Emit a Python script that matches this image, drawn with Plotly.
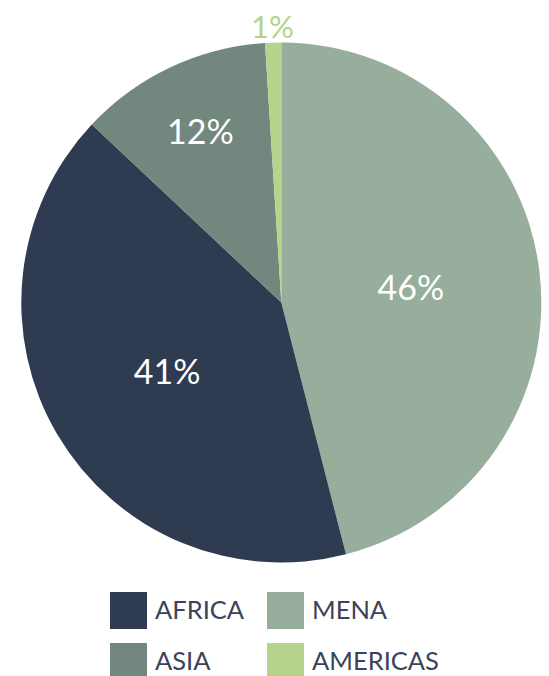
import math
import plotly.graph_objects as go

# Regional share, listed clockwise from 12 o'clock
regions = ["MENA", "AFRICA", "ASIA", "AMERICAS"]
shares = [46, 41, 12, 1]
slice_colors = ["#97ae9d", "#2f3b50", "#72877d", "#b5d38b"]
label_colors = ["#ffffff", "#ffffff", "#ffffff", "#b5d38b"]
# the thin slice gets its label outside the rim instead
label_positions = ["inside", "inside", "inside", "none"]

# Legend layout: two columns, read left to right
legend_order = ["AFRICA", "MENA", "ASIA", "AMERICAS"]

W, H = 549, 676
FONT = "Lato"
CX, CY, R = 281.3, 302.5, 260.0  # pie centre / radius in pixels

fig = go.Figure(
    go.Pie(
        labels=regions,
        values=shares,
        sort=False,
        direction="clockwise",
        rotation=0,
        marker=dict(colors=slice_colors, line=dict(width=0)),
        texttemplate="%{percent:.0%}",
        textposition=label_positions,
        insidetextorientation="horizontal",
        textfont=dict(family=FONT, size=34, color=label_colors),
        showlegend=False,
        hoverinfo="label+percent",
        domain=dict(x=[(CX - R) / W, (CX + R) / W], y=[1 - (CY + R) / H, 1 - (CY - R) / H]),
    )
)

annos = []
shapes = []

# Outside label for slices whose text is not drawn inside
total = sum(shares)
cum = 0.0
for name, v, pos, col in zip(regions, shares, label_positions, label_colors):
    mid = (cum + v / 2) / total * 2 * math.pi
    cum += v
    if pos != "none":
        continue
    rr = R + 17
    px = CX + rr * math.sin(mid)
    py = CY - rr * math.cos(mid)
    annos.append(dict(
        text=f"{round(v / total * 100)}%", xref="paper", yref="paper",
        x=px / W, y=1 - py / H, xanchor="center", yanchor="middle",
        showarrow=False, font=dict(family=FONT, size=31, color=col),
    ))

# Custom legend: large square swatches with labels
color_of = dict(zip(regions, slice_colors))
col_x = [110, 267]
row_y = [592, 643]
sw = 37
for i, name in enumerate(legend_order):
    x0 = col_x[i % 2]
    y0 = row_y[i // 2]
    shapes.append(dict(
        type="rect", xref="paper", yref="paper",
        x0=x0 / W, x1=(x0 + sw) / W,
        y0=1 - (y0 + sw) / H, y1=1 - y0 / H,
        fillcolor=color_of[name], line=dict(width=0),
    ))
    annos.append(dict(
        text=name, xref="paper", yref="paper",
        x=(x0 + sw + 6) / W, y=1 - (y0 + sw / 2 - 2) / H,
        xanchor="left", yanchor="middle", showarrow=False,
        font=dict(family=FONT, size=25.5, color="#3a4357"),
    ))

fig.update_layout(
    width=W, height=H,
    margin=dict(l=0, r=0, t=0, b=0),
    paper_bgcolor="white", plot_bgcolor="white",
    shapes=shapes, annotations=annos,
)

fig.write_html("out.html")
